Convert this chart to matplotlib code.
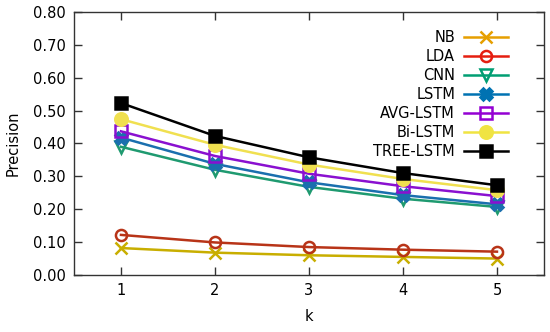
import matplotlib
matplotlib.use("Agg")
import matplotlib.pyplot as plt
from matplotlib.lines import Line2D

k = [1, 2, 3, 4, 5]
labels = ["NB", "LDA", "CNN", "LSTM", "AVG-LSTM", "Bi-LSTM", "TREE-LSTM"]
nb = [0.082, 0.068, 0.060, 0.055, 0.050]
lda = [0.122, 0.099, 0.085, 0.077, 0.071]
cnn = [0.390, 0.320, 0.268, 0.232, 0.207]
lstm = [0.418, 0.338, 0.282, 0.243, 0.215]
avg_lstm = [0.437, 0.362, 0.308, 0.270, 0.240]
bi_lstm = [0.474, 0.396, 0.336, 0.292, 0.258]
tree_lstm = [0.523, 0.423, 0.358, 0.310, 0.273]
series = [nb, lda, cnn, lstm, avg_lstm, bi_lstm, tree_lstm]
yticks = [0.0, 0.1, 0.2, 0.3, 0.4, 0.5, 0.6, 0.7, 0.8]

line_colors = ["#c8ae00", "#b83418", "#1f9a70", "#1a6fae", "#8a10d0", "#f0e050", "#000000"]
legend_colors = ["#e69f00", "#e51e10", "#009e73", "#0072b2", "#9400d3", "#f0e442", "#000000"]
markers = ["x", "o", "v", "X", "s", "o", "s"]
fills = [True, False, False, True, False, True, True]
msizes = [8, 8, 8, 8, 8, 9, 9]

plt.rcParams['font.family'] = ['DejaVu Sans']
fig = plt.figure(figsize=(5.5, 3.32), dpi=100)
ax = fig.add_axes([0.1345, 0.1717, 0.8545, 0.7922])

handles = []
for vals, lab, lc, gc, m, f, ms in zip(series, labels, line_colors, legend_colors, markers, fills, msizes):
    kw = dict(marker=m, markersize=ms, linewidth=1.8, markeredgewidth=1.8)
    if f:
        ax.plot(k, vals, color=lc, markerfacecolor=lc, markeredgecolor=lc, **kw)
        h = Line2D([0], [0], color=gc, markerfacecolor=gc, markeredgecolor=gc, **kw)
    else:
        ax.plot(k, vals, color=lc, markerfacecolor='none', markeredgecolor=lc, **kw)
        h = Line2D([0], [0], color=gc, markerfacecolor='none', markeredgecolor=gc, **kw)
    handles.append(h)

ax.set_xlim(0.5, 5.5)
ax.set_ylim(0, 0.8)
ax.set_xticks(k)
ax.set_yticks(yticks)
ax.set_yticklabels([f"{v:.2f}" for v in yticks])
ax.tick_params(direction='in', length=6, width=1, top=True, right=True,
               labelsize=10.5, color='#333333', pad=6)
for s in ax.spines.values():
    s.set_color('#333333')
    s.set_linewidth(1.0)
ax.set_xlabel('k', fontsize=10.5, labelpad=8)
ax.set_ylabel('Precision', fontsize=10.5, labelpad=9)

leg = ax.legend(handles, labels, loc='upper right', markerfirst=False, frameon=False,
                fontsize=10.5, handlelength=3.0, handletextpad=0.6, labelspacing=0.28,
                bbox_to_anchor=(0.935, 0.955), borderaxespad=0)
for t in leg.get_texts():
    t.set_ha('right')
leg._legend_box.align = "right"
fig.savefig('out.png', dpi=100)
